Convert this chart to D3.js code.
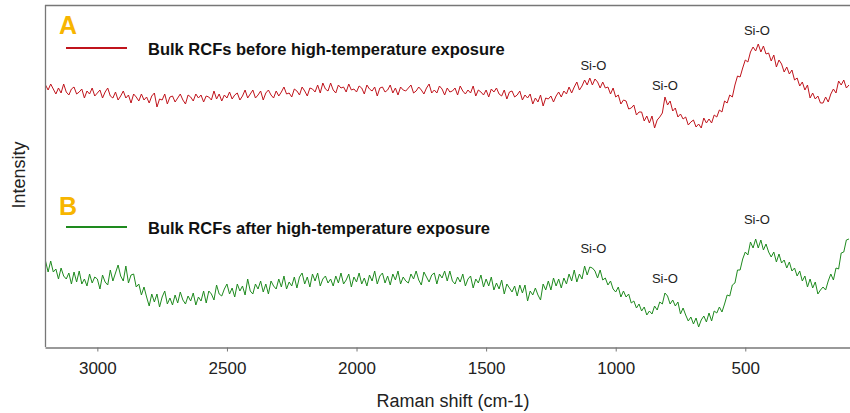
<!DOCTYPE html>
<html>
<head>
<meta charset="utf-8">
<script src="https://cdn.jsdelivr.net/npm/d3@7"></script>
<style>
  html, body { margin: 0; padding: 0; background: #fff; }
  svg { display: block; font-family: "Liberation Sans", Arial, sans-serif; }
</style>
</head>
<body>
<svg id="chart" width="850" height="413"></svg>
<script>
// ---- data ----
const shiftStart = 3200;      // Raman shift of first sample (cm-1)
const shiftStep = 10;         // spacing between samples (cm-1)
const xTicks = [3000, 2500, 2000, 1500, 1000, 500];

const seriesNames = ["Bulk RCFs before high-temperature exposure",
                     "Bulk RCFs after high-temperature exposure"];
const panelLetters = ["A", "B"];

const intensityA = [
  262,257,263,258,253,259,254,263,255,252,
  258,260,253,255,258,249,256,253,259,251,
  254,257,249,255,259,251,249,255,247,251,
  256,249,252,244,253,250,246,253,247,250,
  244,251,254,240,248,247,253,243,250,251,
  245,249,253,247,243,252,250,246,253,249,
  252,245,251,250,247,256,248,253,246,252,
  249,255,248,252,254,247,251,257,249,253,
  257,249,252,256,247,254,257,252,249,256,
  251,255,260,253,254,250,258,256,252,260,
  256,251,259,258,255,262,254,264,258,256,
  264,257,254,262,259,260,255,263,257,258,
  255,261,259,253,262,258,256,260,251,259,
  260,255,257,262,254,259,252,260,257,256,
  259,262,254,256,260,257,253,259,263,254,
  257,254,261,258,252,259,255,256,259,252,
  261,256,253,257,254,261,251,257,255,252,
  257,250,258,255,259,253,251,257,248,255,
  256,250,252,256,247,252,249,253,243,249,
  245,252,241,249,248,251,245,251,255,250,
  256,253,260,254,260,265,257,261,267,262,
  269,262,268,265,259,265,259,260,253,259,
  250,252,243,247,246,238,239,242,232,235,
  235,226,231,224,231,219,227,230,234,250,
  242,246,236,239,230,233,228,230,222,225,
  227,220,223,219,229,224,228,224,232,230,
  237,235,246,244,252,250,262,271,270,279,
  287,285,295,300,296,303,295,301,293,294,
  286,292,280,287,283,275,280,273,277,267,
  269,261,265,257,262,249,254,248,251,244,
  244,250,245,253,258,254,266,262,267,259,
  262
];

const intensityB = [
  86,75,86,75,78,68,79,71,68,74,
  63,75,65,76,63,68,61,73,64,70,
  68,58,72,65,62,77,66,74,82,71,
  66,81,64,72,73,60,63,52,60,50,
  41,53,45,53,40,50,56,43,49,42,
  52,44,55,47,43,51,46,54,42,50,
  46,56,44,56,53,47,62,53,51,58,
  63,53,59,50,63,56,61,52,68,56,
  53,63,58,66,55,63,53,66,61,58,
  68,60,71,58,65,61,70,59,70,74,
  63,70,60,73,66,74,61,68,71,64,
  68,61,71,64,74,63,67,73,60,70,
  65,74,63,69,61,72,66,76,63,71,
  74,64,71,62,73,67,76,63,70,66,
  64,73,68,76,67,62,75,70,65,72,
  74,63,73,69,76,66,76,66,63,70,
  65,73,61,68,71,59,68,64,72,60,
  68,61,70,57,64,58,67,53,63,59,
  55,61,51,62,54,62,46,56,52,59,
  52,47,63,57,66,57,69,61,68,59,
  69,63,73,66,77,65,73,68,81,72,
  80,79,76,69,77,67,69,62,66,58,
  55,60,50,56,50,53,44,46,39,43,
  36,40,32,36,33,41,37,45,43,54,
  51,43,47,41,45,33,39,32,26,30,
  23,29,20,27,31,25,34,26,36,34,
  40,35,43,52,51,62,64,77,77,88,
  95,92,105,99,108,99,107,97,103,95,
  90,95,85,93,84,87,79,85,76,79,
  71,76,66,71,60,68,59,65,53,57,
  60,57,66,73,67,79,78,94,95,107,
  108
];

// Peak annotations (label position in data units)
const peakShifts = [1086, 810, 455];
const peakLabelA = [277, 257, 312];
const peakLabelB = [94, 64, 123];
const peakText = "Si-O";

// ---- layout ----
const W = 850, H = 413;
const m = {left: 45, top: 5, right: 850, bottom: 347};
const colors = ["#c0141c", "#1e8a1e"];
const letterColor = "#f7b500";

const svg = d3.select("#chart");

const x = d3.scaleLinear().domain([3202, 96]).range([m.left, m.right]);
const y = d3.scaleLinear().domain([0, 342]).range([m.bottom, m.top]);

const toPoints = arr => arr.map((v, i) => ({w: shiftStart - i * shiftStep, v}));

const line = d3.line().x(d => x(d.w)).y(d => y(d.v));

// spectra
[intensityA, intensityB].forEach((arr, k) => {
  svg.append("path")
    .datum(toPoints(arr))
    .attr("fill", "none")
    .attr("stroke", colors[k])
    .attr("stroke-width", 1)
    .attr("stroke-linejoin", "round")
    .attr("d", line);
});

// frame (top and left)
svg.append("line").attr("x1", m.left).attr("x2", m.right).attr("y1", m.top + 0.5).attr("y2", m.top + 0.5)
  .attr("stroke", "#777").attr("stroke-width", 1.3);
svg.append("line").attr("x1", m.left + 0.5).attr("x2", m.left + 0.5).attr("y1", m.top).attr("y2", m.bottom)
  .attr("stroke", "#777").attr("stroke-width", 1.3);

// bottom axis
const xAxis = d3.axisBottom(x).tickValues(xTicks).tickSize(4).tickSizeOuter(0).tickPadding(10)
  .tickFormat(d3.format("d"));
const gx = svg.append("g").attr("transform", `translate(0,${m.bottom + 0.5})`).call(xAxis);
gx.select(".domain").attr("stroke", "#777").attr("stroke-width", 1.3);
gx.selectAll(".tick line").attr("stroke", "#777");
gx.selectAll(".tick text").attr("fill", "#222").style("font-size", "17px")
  .style("font-family", "'Liberation Sans', Arial, sans-serif");

// axis titles
svg.append("text").attr("x", 453).attr("y", 407).attr("text-anchor", "middle")
  .attr("fill", "#222").style("font-size", "18px").text("Raman shift (cm-1)");
svg.append("text").attr("transform", "translate(25,175) rotate(-90)").attr("text-anchor", "middle")
  .attr("fill", "#222").style("font-size", "18px").text("Intensity");

// panel letters & legends
const letterY = [34, 215];
const legendY = [48, 227];
const legendTextY = [55, 234];
panelLetters.forEach((L, k) => {
  svg.append("text").attr("x", 59).attr("y", letterY[k]).attr("fill", letterColor)
    .style("font-size", "25px").style("font-weight", "bold").text(L);
  svg.append("line").attr("x1", 66).attr("x2", 127).attr("y1", legendY[k]).attr("y2", legendY[k])
    .attr("stroke", colors[k]).attr("stroke-width", 2);
  svg.append("text").attr("x", 148).attr("y", legendTextY[k]).attr("fill", "#111")
    .style("font-size", "16.5px").style("font-weight", "bold").text(seriesNames[k]);
});

// peak labels
[peakLabelA, peakLabelB].forEach(arr => {
  peakShifts.forEach((w, i) => {
    svg.append("text").attr("x", x(w)).attr("y", y(arr[i])).attr("text-anchor", "middle")
      .attr("fill", "#222").style("font-size", "13px").text(peakText);
  });
});
</script>
</body>
</html>
